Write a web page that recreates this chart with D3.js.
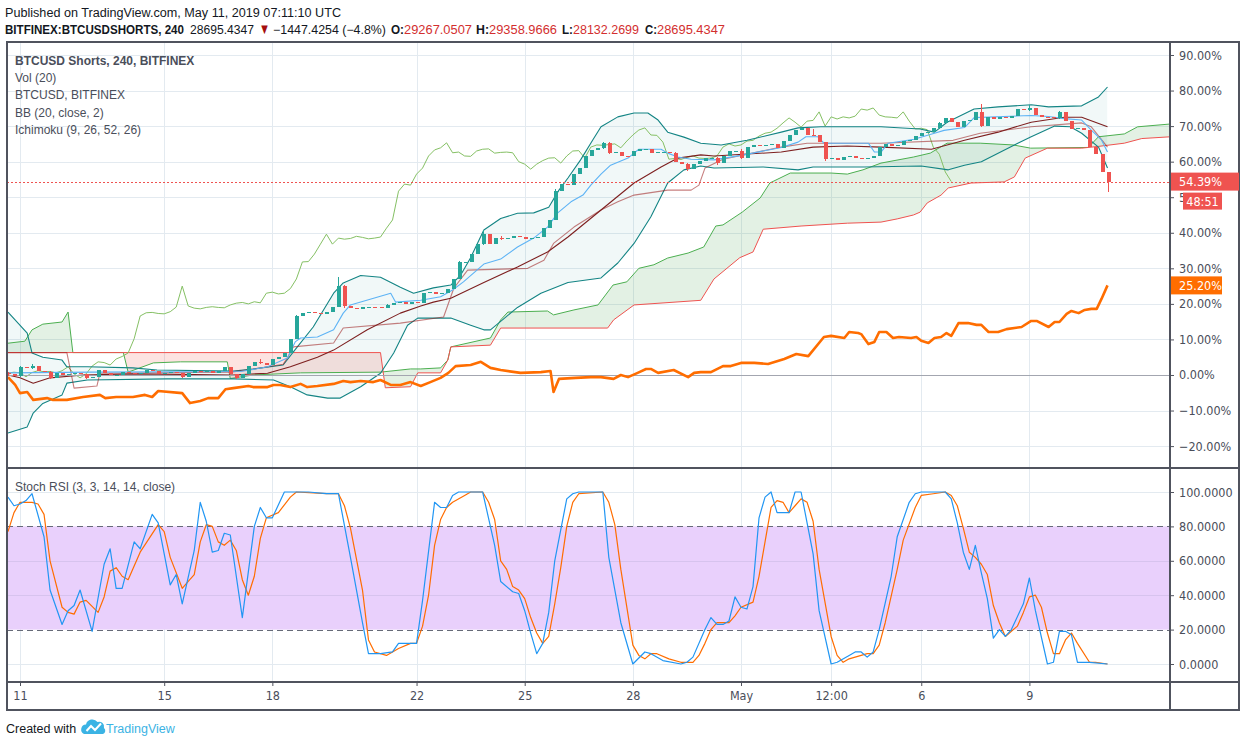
<!DOCTYPE html>
<html><head><meta charset="utf-8">
<script src="https://cdn.jsdelivr.net/npm/d3@7"></script>
<style>
body{margin:0;background:#fff}
svg{display:block}
</style>
</head><body>
<svg id="c" width="1240" height="747"></svg>
<script>
// ---------------- DATA ----------------
// 4h bars, bar 0 = 2019-04-10 16:00 UTC. Values in % (BTCUSD Shorts, percent scale)
const firstOpen = 0.6;
const closes = [0.2,-0.3,2.2,2.0,2.4,1.2,0.9,-0.8,0.5,0.0, 0.2,0.6,0.4,-0.8,-0.5,1.3,0.5,0.0,0.1,0.8,
 0.6,0.3,0.6,1.5,1.2,0.4,0.5,0.8,0.6,-0.5, 0.7,1.2,0.9,1.0,0.6,1.2,2.3,0.3,-0.8,0.3,
 2.5,3.7,3.5,2.8,4.5,5.2,6.2,10.2,16.6,17.5, 17.6,17.3,17.2,17.8,19.1,25.0,19.4,18.8,18.6,19.0,
 19.2,19.0,18.9,19.7,20.2,20.4,20.0,20.6,20.3,23.0, 23.3,22.8,23.0,24.3,27.0,31.8,31.9,34.0,36.8,39.6,
 36.8,38.5,38.2,38.4,39.0,38.7,38.3,38.5,38.8,41.3, 43.6,51.7,53.7,53.4,56.5,58.2,61.6,63.3,63.9,65.3,
 62.5,62.7,61.6,61.5,63.0,63.5,63.6,62.4,62.6,62.7, 62.5,60.0,59.3,57.9,59.3,60.3,61.0,61.1,59.6,61.6,
 63.0,63.1,61.0,64.1,64.7,64.6,64.8,65.0,63.9,65.8, 67.5,68.9,69.5,67.5,67.4,65.5,60.7,60.9,60.6,61.2,
 61.6,61.0,60.9,61.0,61.6,64.1,65.0,64.4,64.7,65.8, 66.0,67.2,68.0,68.3,69.4,70.9,72.3,71.1,69.7,71.4,
 71.6,74.0,70.0,72.6,72.0,72.6,72.3,72.8,74.8,74.5, 75.1,73.1,72.6,72.5,72.3,74.0,71.4,69.2,69.4,69.0,
 64.1,62.1,57.1,54.4];
// notable wicks: [bar, high, low]
const wicks = [[0,0.8,-0.2],[2,2.5,-0.5],[4,3.2,1.8],[7,1.0,-1.0],[13,0.3,-1.0],[29,0.6,-0.8],[38,0.4,-1.0],
 [42,4.5,3.0],[48,16.8,10.0],[55,27.5,19.0],[56,25.2,18.8],[63,20.0,18.8],[75,32.2,27],[79,40.8,36.5],
 [82,39.0,38.0],[91,52.3,43.5],[99,65.6,63.5],[100,65.5,62.2],[111,62.6,59.8],[113,59.6,57.5],[118,61.2,59.2],
 [122,63.5,60.8],[134,69.3,67.3],[136,65.5,60.2],[155,71.2,69.3],[162,76.3,69.8],[170,75.8,74.3],[175,74.3,72.0],[183,57.1,51.5]];
const lagShift = 26;

const bbUpper = [[0,17.7],[3.2,11.8],[4,6.2],[5.8,5],[9,4.2],[9.8,2.3],[13.2,2.3],[20.8,2.0],[24.8,1.4],[37.5,1.1],[40.8,1.7],[45.8,2.8],[47.5,6.5],[50.8,13.5],[54.2,23],[55.8,25.9],[58.7,28],[62,27.5],[65.3,24.7],[67.5,23],[70.8,24.5],[73.7,25.3],[75.3,28],[77,33],[79.2,40.8],[82,44],[84.8,45.5],[87.5,45.6],[90,47.2],[91.7,52],[93.2,55.4],[95.3,60.5],[97.3,66],[98.7,69.8],[101.5,72.6],[104.2,73.7],[106.5,73.7],[108.2,71.7],[109.8,68.3],[112.5,66.9],[115.3,65.2],[118.7,64.7],[123,66],[128.7,68.3],[131.5,69.5],[135.3,69.8],[145.3,69.8],[151.8,69.2],[154.2,68.3],[156.3,71.1],[160.8,74.8],[164.8,75.4],[170.3,76],[173.2,75.4],[178.7,75.7],[181.5,78.2],[183,81]];
const bbLower = [[0,-16.3],[3.2,-14.6],[4.2,-10.7],[5.8,-8],[9,-5.6],[9.8,-2.3],[13.2,-1.4],[26.5,-1.1],[37.5,-1.1],[44.2,-1.4],[47,-3.3],[49.8,-5.6],[53.2,-6.5],[55.3,-6.5],[58.7,-3.3],[62,0.5],[64.2,6.2],[66.5,14],[68.2,16],[73.7,16],[77,14],[79.2,12.7],[80.3,12.7],[84.8,19],[88.7,23],[93.2,26],[98.7,27.3],[101.5,31.5],[104.2,37],[107,44.5],[109.8,54],[112.5,57.7],[115.3,58.8],[117.5,58.2],[125.7,58.5],[131.5,57.7],[134,58.5],[142.5,58.5],[152,58.8],[156.5,57.7],[159.2,59],[162,60],[167.5,64.7],[170.3,67],[174.2,70],[176.8,69.8],[178.7,68],[181.5,64.1],[183,58.2]];
const bbBasis = [[0,0],[2,-0.8],[4.2,-2.3],[7,-0.8],[12.5,0],[20.8,0.3],[37.5,0],[43.2,0.5],[47,2.3],[51.5,5],[54.2,7],[59.8,12.7],[65.3,17.4],[68.7,19.4],[70.8,20.5],[73.7,21.6],[79.2,26],[84.8,30.4],[89.8,34.6],[93.2,38.8],[98.7,46.4],[104.2,54],[108.7,58.5],[111.5,61],[115.3,61.9],[117.5,61.6],[128.7,62.7],[134,64.1],[139.7,64.4],[145.3,64.1],[153.7,63.5],[159.2,66],[164.8,68.3],[170.3,71.1],[175.8,72.5],[178.7,72.5],[183,69.8]];
const tenkan = [[0,0.6],[14,0.8],[38.7,1.0],[40.3,1.4],[43.2,2.3],[46.5,4.8],[47.8,9.3],[48.7,10.4],[51.5,10.7],[54.2,12.7],[55.8,17.4],[57,19.7],[63.7,23],[64.5,20.5],[68.7,21],[72,22],[74,23.9],[75.8,26.2],[79.2,31.2],[82,32.6],[84.8,36],[87.5,38.5],[89.8,41.6],[91.5,45.6],[93.7,48.7],[95.7,50.6],[97,53.4],[98.7,56.5],[100.3,59],[103.2,61],[104.2,62.4],[105,63.5],[108.7,63.5],[109.8,62.4],[111.5,61.3],[113.7,60.7],[117.5,60.5],[122.5,61.9],[128.7,64],[131.5,65.5],[132.8,67],[134.8,67],[135.8,65.2],[143.2,65.2],[144.2,62.7],[145.3,62.7],[146.5,65.2],[150.8,66.3],[154.2,68],[155.8,68.8],[159.2,69.6],[160.8,72.4],[170.3,73],[173.2,72.7],[175.8,72.1],[178.7,71.7],[180.3,68.9],[182,66.1],[183,62.7]];
const kijun = [[0,6.3],[9.8,6.3],[11,-3.7],[14.8,-3.1],[15.3,0.5],[37,0.8],[40.3,1.5],[45.8,3],[46.5,4.8],[47.5,7.9],[54.2,9],[55.8,13.2],[65.3,14.6],[72.5,16.3],[74.2,24.4],[76.5,29.5],[86.5,30],[89.2,32.3],[90.8,37],[94.2,41.6],[98.7,46.4],[101.5,48.7],[104.2,50.6],[109.8,52],[113.7,52],[115,53.4],[116,58.2],[119,60.7],[128.7,64.1],[133,65.2],[145.3,65.2],[157.3,66],[161.8,68],[170.3,69.8],[178.7,70.9],[180.3,69.8],[183,64.1]];
const leadA = [[-0.2,8.9],[2.8,9.5],[4,12.7],[5.8,14.3],[9,14.9],[10,17.7],[10.8,6.3],[19.2,6.3],[20,0.8],[24.2,3.4],[28.7,3.7],[36.5,3.7],[37,-1.0],[40.8,0],[48.7,0.6],[62,0.8],[67,1.7],[68.7,1.7],[72,2],[73.2,4.2],[73.7,7.9],[80.3,10.4],[82,15.5],[83.2,17.7],[89.8,18],[90.8,16.9],[94.2,18.3],[98.2,19.7],[100.7,25.3],[103,26.2],[105,30],[107.5,31],[109.8,32.9],[113.2,34.3],[115.8,36],[117.8,41.9],[119,42.2],[122.2,45.8],[125.2,49.8],[126.8,54],[130.2,56.8],[137,56.8],[139.7,56.5],[142.3,57.7],[145.3,59.6],[150.7,61.3],[153.5,62.4],[156.3,65.2],[161.8,65.2],[167.3,64.7],[170.2,63.8],[179.8,64],[181.5,67],[185.8,67.8],[188,69.8],[193.5,70.6]];
const leadB = [[-0.2,6.3],[62,6.3],[62.8,-3.6],[67,-3.3],[68.2,0.6],[72,0.6],[73.2,4.2],[73.7,7.9],[80.3,8.4],[82,13.2],[99.8,13.2],[100.8,15.5],[104.2,19.7],[115.3,21],[117.5,27],[121.8,33],[124,34.6],[125.7,41],[132,41.9],[139.7,42.7],[145.3,43],[148,43.9],[150.7,45],[151.8,45.8],[153,48.4],[155.3,50.6],[156.5,52.6],[160.3,54],[165.8,54.3],[167.5,55.7],[169.3,61],[173,63.8],[178.7,63.8],[181.5,64.3],[185.8,65.2],[188.7,66.5],[193.5,67]];
const btcusd = [[0,-0.6],[1.2,-2.8],[2,-5.1],[3.2,-4.8],[4.2,-7],[6.5,-6.5],[7.5,-7],[9.8,-7],[12.5,-6.2],[15.3,-5.6],[16.2,-6.5],[18,-6.2],[20.8,-6.2],[22.8,-5.6],[24,-6.2],[25,-4.5],[29,-5.1],[30.3,-7.9],[32,-7.3],[33.3,-6.5],[35,-6.5],[36.2,-4],[37.5,-3.7],[40,-3.1],[40.8,-3.4],[43.2,-3.4],[44.2,-2.8],[45.3,-2.8],[47,-3.4],[48.7,-2.5],[49.8,-3.4],[51.5,-3.1],[54.2,-2.5],[55.8,-1.7],[57,-2],[58.7,-1.7],[60.8,-2],[62,-1.4],[63.7,-2.8],[65.3,-2.8],[67,-2],[68.7,-3.1],[70.3,-2],[72,-0.8],[73.3,0.6],[74.5,2.5],[77,2.8],[78.7,3.7],[80.3,2],[82,1.4],[85.3,0.6],[88.7,0.8],[90.3,1.1],[90.8,-4.8],[91.7,-1.1],[94.5,-0.8],[97,-0.6],[98.7,-0.6],[100.8,-1.1],[102,0],[103.2,-0.6],[104.8,0.6],[106.2,1.7],[107,1.7],[108.2,0.6],[110.8,1.4],[113.2,-0.6],[114.2,0.6],[115.3,0.8],[117,0.8],[119,2.5],[120.3,2.5],[122,3.4],[124.2,3.4],[126.5,3.1],[129.2,4.5],[131.2,5.9],[133.2,5.3],[135.8,10.7],[137,11],[139.2,10.4],[140,12.1],[141.5,11.8],[142,11.5],[143.2,8.7],[144.2,9.3],[145,12.1],[146.2,12.1],[147.3,10.4],[148.3,10.7],[150.3,10.4],[151.2,10.7],[152,9.6],[153.2,9],[154.2,10.4],[155.3,10.7],[156.2,11.8],[157,11],[158.2,14.6],[159.8,14.6],[161.2,14.1],[162,14.1],[163.2,12.1],[164.8,12.1],[166.2,12.9],[168.7,13.5],[170.3,15.2],[171.2,15.2],[173.2,13.5],[174.2,14.9],[175,14.9],[176.2,17.2],[177,18],[178.2,17.4],[179.2,18.3],[180.3,18.6],[181.2,18.6],[182,21.4],[183,25.2]];
const stochK = [[0,97],[1,92],[2,93],[3,95],[4,99],[6,74],[7,43],[9,23],[10,31],[11,34],[12,43],[14,19],[16,58],[17,67],[18,44],[19,44],[21,71],[22,67],[24,87],[25,82],[27,46],[28,52],[29,35],[31,66],[32,94],[33,83],[34,65],[35,66],[36,76],[37,75],[39,27],[41,80],[42,91],[43,85],[44,85],[46,100],[50,100],[53,99],[55,99],[57,62],[59,24],[60,6],[62,6],[64,7],[65,12],[66,12],[68,12],[69,37],[71,94],[72,91],[73,91],[74,98],[75,100],[79,100],[81,69],[82,48],[84,42],[85,41],[86,31],[87,18],[88,6],[89,12],[90,30],[91,60],[93,96],[94,99],[95,100],[99,100],[100,62],[102,24],[104,0],[106,7],[107,6],[109,2],[112,0],[113,1],[114,4],[116,20],[117,27],[118,23],[119,23],[120,25],[121,39],[122,33],[123,32],[124,45],[125,85],[126,97],[127,100],[128,88],[130,88],[131,100],[132,100],[134,64],[135,31],[137,0],[138,1],[140,5],[141,7],[142,7],[143,4],[144,7],[145,20],[147,51],[148,74],[150,94],[151,99],[152,100],[156,100],[157,96],[158,82],[159,65],[160,55],[161,69],[162,53],[163,38],[164,15],[165,20],[166,16],[167,20],[169,35],[170,50],[171,31],[173,0],[174,1],[175,19],[176,19],[177,17],[178,1],[180,1],[183,0]];
const stochD = [[0,77],[1,88],[2,94],[4,94],[5,93],[6,87],[7,60],[9,33],[10,30],[11,29],[12,36],[13,37],[15,30],[16,39],[17,54],[18,56],[19,51],[20,49],[22,65],[25,81],[26,77],[27,62],[29,44],[30,48],[31,52],[32,71],[33,81],[34,80],[35,71],[36,69],[37,72],[38,66],[39,49],[40,40],[41,51],[42,73],[43,85],[45,88],[47,97],[48,100],[53,99],[55,99],[56,92],[57,79],[59,43],[60,14],[61,7],[63,5],[64,7],[65,9],[67,12],[68,12],[69,22],[70,40],[71,69],[72,84],[73,91],[74,94],[76,98],[77,100],[79,100],[80,94],[81,84],[82,60],[83,55],[84,45],[85,43],[86,38],[87,27],[88,18],[89,12],[90,16],[91,35],[92,56],[93,80],[94,94],[95,99],[99,100],[100,94],[101,81],[102,55],[104,11],[105,5],[106,3],[107,6],[108,6],[110,3],[112,1],[114,1],[115,5],[116,12],[117,20],[118,24],[120,24],[121,28],[122,33],[124,36],[125,51],[126,71],[127,91],[128,95],[129,94],[130,88],[131,92],[132,96],[133,94],[134,83],[135,55],[137,16],[138,5],[139,1],[140,3],[142,5],[143,6],[144,6],[145,11],[146,24],[148,55],[149,72],[151,91],[152,98],[154,99],[156,100],[157,98],[158,92],[159,79],[160,65],[161,62],[162,58],[163,52],[164,34],[165,24],[166,16],[167,19],[168,22],[169,30],[170,39],[171,40],[172,33],[173,18],[174,6],[175,6],[176,14],[177,18],[178,12],[180,1],[181,1],[183,0]];

const mainTicks = [-20,-10,0,10,20,30,40,50,60,70,80,90];
const stochTicks = [0,20,40,60,80,100];
const stochBand = [20,80];
const timeTickDates = ["2019-04-11T00:00","2019-04-15T00:00","2019-04-18T00:00","2019-04-22T00:00","2019-04-25T00:00","2019-04-28T00:00","2019-05-01T00:00","2019-05-03T12:00","2019-05-06T00:00","2019-05-09T00:00"];
const timeTickLabels = ["11","15","18","22","25","28","May","12:00","6","9"];
const lastPrice = 54.39, lastBtc = 25.20, countdown = "48:51";

// ---------------- LAYOUT ----------------
const L = 7, R = 1170, T = 42, MB = 468, SB = 682, AB = 710, W = 1239;
const FONT = "'Liberation Sans', Arial, sans-serif";
const NFONT = "'Liberation Sans Narrow','DejaVu Sans Condensed','Liberation Sans',sans-serif";
const svg = d3.select('#c');
const defs = svg.append('defs');

const t0 = Date.UTC(2019,3,10,16), H4 = 4*3600e3;
const xT = d3.scaleTime().domain([new Date(Date.UTC(2019,3,11)), new Date(Date.UTC(2019,4,1))]).range([20, 741]);
const bx = i => xT(new Date(t0 + i*H4));
const yM = d3.scaleLinear().domain([-20, 90]).range([446.1, 55]);
const yS = d3.scaleLinear().domain([0, 100]).range([664, 492]);
const tDates = timeTickDates.map(s => new Date(s + ':00Z'));

defs.append('clipPath').attr('id','mainClip').append('rect').attr('x',L).attr('y',T).attr('width',R-L).attr('height',MB-T);
defs.append('clipPath').attr('id','stClip').append('rect').attr('x',L).attr('y',MB).attr('width',R-L).attr('height',SB-MB);

// grid
const grid = svg.append('g').attr('shape-rendering','crispEdges').attr('stroke','#e3eaf0').attr('stroke-width',1);
mainTicks.forEach(v => grid.append('line').attr('x1',L).attr('x2',R).attr('y1',Math.round(yM(v))+0.5).attr('y2',Math.round(yM(v))+0.5));
[0,40,60,100].forEach(v => grid.append('line').attr('x1',L).attr('x2',R).attr('y1',Math.round(yS(v))+0.5).attr('y2',Math.round(yS(v))+0.5));
tDates.forEach(d => grid.append('line').attr('x1',Math.round(xT(d))+0.5).attr('x2',Math.round(xT(d))+0.5).attr('y1',T).attr('y2',SB));

// main pane
const mp = svg.append('g').attr('clip-path','url(#mainClip)');
function clipBelow(id, data) {
  defs.append('clipPath').attr('id',id).append('path')
    .attr('d', d3.area().x(d=>bx(d[0])).y0(MB+200).y1(d=>yM(d[1]))(data));
}
const areaAbove = data => d3.area().x(d=>bx(d[0])).y0(T-200).y1(d=>yM(d[1]))(data);
clipBelow('belowA', leadA); clipBelow('belowB', leadB); clipBelow('belowU', bbUpper);
mp.append('path').attr('d', areaAbove(leadB)).attr('fill','rgba(67,160,71,0.15)').attr('clip-path','url(#belowA)');
mp.append('path').attr('d', areaAbove(leadA)).attr('fill','rgba(244,67,54,0.15)').attr('clip-path','url(#belowB)');
mp.append('path').attr('d', areaAbove(bbLower)).attr('fill','rgba(19,132,132,0.06)').attr('clip-path','url(#belowU)');

const lineM = d3.line().x(d=>bx(d[0])).y(d=>yM(d[1]));
function drawLine(g, data, color, w, gen) {
  g.append('path').attr('d',(gen||lineM)(data)).attr('fill','none').attr('stroke',color).attr('stroke-width',w).attr('stroke-linejoin','round');
}
drawLine(mp, leadA, '#4caf50', 1);
drawLine(mp, leadB, '#ef5350', 1);
const lagging = closes.map((c,i)=>[i-lagShift, c]);
drawLine(mp, lagging, '#85c064', 1);
drawLine(mp, bbUpper, '#138484', 1.1);
drawLine(mp, bbLower, '#138484', 1.1);
drawLine(mp, kijun, 'rgba(153,21,21,0.55)', 1.1);
drawLine(mp, bbBasis, '#7d1f1f', 1.1);
drawLine(mp, tenkan, '#5db3f5', 1.1);

// zero line
mp.append('line').attr('x1',L).attr('x2',R).attr('y1',Math.round(yM(0))+0.5).attr('y2',Math.round(yM(0))+0.5)
  .attr('stroke','#a3a6b0').attr('stroke-width',1);

// candles
const wickMap = new Map(wicks.map(w=>[w[0],w]));
const cg = mp.append('g').attr('shape-rendering','crispEdges');
closes.forEach((c,i) => {
  const o = i===0 ? firstOpen : closes[i-1];
  const up = c >= o;
  const col = up ? '#26a69a' : '#ef5350';
  const w = wickMap.get(i);
  const hi = w ? Math.max(w[1], o, c) : Math.max(o,c);
  const lo = w ? Math.min(w[2], o, c) : Math.min(o,c);
  const xc = Math.round(bx(i));
  cg.append('line').attr('x1',xc+0.5).attr('x2',xc+0.5).attr('y1',yM(hi)).attr('y2',yM(lo)).attr('stroke',col);
  const y1 = yM(Math.max(o,c)), y2 = yM(Math.min(o,c));
  cg.append('rect').attr('x',xc-1.5).attr('width',4).attr('y',y1).attr('height',Math.max(1,y2-y1)).attr('fill',col);
});

// BTCUSD compare line
drawLine(mp, btcusd, '#ff6d00', 2.6);

// last price line
mp.append('line').attr('x1',L).attr('x2',R).attr('y1',Math.round(yM(lastPrice))+0.5).attr('y2',Math.round(yM(lastPrice))+0.5)
  .attr('stroke','#ef5350').attr('stroke-width',1).attr('stroke-dasharray','2,2');

// stoch pane
const sp = svg.append('g').attr('clip-path','url(#stClip)');
sp.append('rect').attr('x',L).attr('width',R-L).attr('y',yS(stochBand[1])).attr('height',yS(stochBand[0])-yS(stochBand[1]))
  .attr('fill','#e9d0fc');
[40,60].forEach(v => sp.append('line').attr('x1',L).attr('x2',R).attr('y1',Math.round(yS(v))+0.5).attr('y2',Math.round(yS(v))+0.5).attr('stroke','#d7c3ee'));
stochBand.forEach(v => sp.append('line').attr('x1',L).attr('x2',R).attr('y1',Math.round(yS(v))+0.5).attr('y2',Math.round(yS(v))+0.5)
  .attr('stroke','#666a78').attr('stroke-dasharray','6,4'));
const lineS = d3.line().x(d=>bx(d[0])).y(d=>yS(d[1]));
drawLine(sp, stochD, '#ff6d00', 1.2, lineS);
drawLine(sp, stochK, '#2196f3', 1.2, lineS);

// borders
const bd = svg.append('g').attr('stroke','#50535e').attr('stroke-width',1.5).attr('fill','none').attr('shape-rendering','crispEdges');
bd.append('rect').attr('x',L).attr('y',T).attr('width',W-L).attr('height',AB-T);
bd.append('line').attr('x1',R).attr('x2',R).attr('y1',T).attr('y2',AB);
bd.append('line').attr('x1',L).attr('x2',W).attr('y1',MB).attr('y2',MB);
bd.append('line').attr('x1',L).attr('x2',W).attr('y1',SB).attr('y2',SB);

// axes
const fmtP = d3.format('.2f');
const axM = svg.append('g').attr('transform',`translate(${R},0)`)
  .call(d3.axisRight(yM).tickValues(mainTicks).tickSize(4).tickPadding(5).tickFormat(d=>fmtP(d)+'%'));
const axS = svg.append('g').attr('transform',`translate(${R},0)`)
  .call(d3.axisRight(yS).tickValues(stochTicks).tickSize(4).tickPadding(5).tickFormat(d3.format('.4f')));
const axT = svg.append('g').attr('transform',`translate(0,${SB})`)
  .call(d3.axisBottom(xT).tickValues(tDates).tickSize(4).tickPadding(5).tickFormat((d,i)=>timeTickLabels[i]));
[axM,axS,axT].forEach(a => {
  a.select('.domain').remove();
  a.selectAll('line').attr('stroke','#50535e');
  a.selectAll('text').attr('fill','#4a4e5a').style('font-family',NFONT).style('font-size','12.5px');
});
// the countdown box hides the 50.00% label except its first digit, as in the reference
axM.selectAll('.tick').filter(d => d === 50).select('text').text('5');

// price labels on axis
function axisLabel(v, text, color, x2, y) {
  const g = svg.append('g');
  g.append('rect').attr('x',R+1).attr('y',y-9).attr('width',x2-R-1).attr('height',18).attr('fill',color);
  g.append('text').attr('x',R+9).attr('y',y+4.5).text(text).attr('fill','#fff').style('font-family',NFONT).style('font-size','12.5px');
}
axisLabel(lastPrice, fmtP(lastPrice)+'%', '#ef5350', W, yM(lastPrice));
svg.append('rect').attr('x',1183).attr('y',yM(lastPrice)+11).attr('width',39).attr('height',17).attr('fill','#ef5350');
svg.append('text').attr('x',1202.5).attr('y',yM(lastPrice)+24).attr('text-anchor','middle').text(countdown).attr('fill','#fff').style('font-family',NFONT).style('font-size','12.5px');
axisLabel(lastBtc, fmtP(lastBtc)+'%', '#ff6d00', 1222, yM(lastBtc));

// texts
const tx = svg.append('g').style('font-family',FONT).style('font-size','12px');
tx.append('text').attr('x',5).attr('y',17).attr('fill','#131722').text('Published on TradingView.com, May 11, 2019 07:11:10 UTC')
  .attr('textLength',336).attr('lengthAdjust','spacingAndGlyphs');
const headerSegs = [
  ['BITFINEX:BTCUSDSHORTS, 240', 5, 179, 'bold', '#131722', 12],
  ['28695.4347', 190, 64, 'normal', '#131722', 12],
  ['\u25BC', 259, 11, 'normal', '#a50e0e', 15],
  ['\u22121447.4254 (\u22124.8%)', 273, 113, 'normal', '#131722', 12],
  ['O:', 391, 13, 'bold', '#131722', 12], ['29267.0507', 404, 68, 'normal', '#d32f2f', 12],
  ['H:', 476, 13, 'bold', '#131722', 12], ['29358.9666', 489, 68, 'normal', '#d32f2f', 12],
  ['L:', 562, 11, 'bold', '#131722', 12], ['28132.2699', 573, 66, 'normal', '#d32f2f', 12],
  ['C:', 645, 12, 'bold', '#131722', 12], ['28695.4347', 657, 68, 'normal', '#d32f2f', 12]];
headerSegs.forEach(s => tx.append('text').attr('x',s[1]).attr('y',34).text(s[0]).attr('fill',s[4])
  .style('font-weight',s[3]).style('font-size',s[5]+'px').attr('textLength',s[2]).attr('lengthAdjust','spacingAndGlyphs'));

const legend = ['BTCUSD Shorts, 240, BITFINEX','Vol (20)','BTCUSD, BITFINEX','BB (20, close, 2)','Ichimoku (9, 26, 52, 26)'];
legend.forEach((s,i) => tx.append('text').attr('x',15).attr('y',65+i*17.2).text(s).attr('fill','#4a4e5a')
  .style('font-weight', i===0?'bold':'normal'));
tx.append('text').attr('x',15).attr('y',491).text('Stoch RSI (3, 3, 14, 14, close)').attr('fill','#4a4e5a');

// footer
tx.append('text').attr('x',6).attr('y',733).text('Created with').attr('fill','#131722').style('font-size','12.5px');
const logo = svg.append('g');
logo.append('path').attr('d','M84,734 a5,5 0 0 1 2,-9.5 a6.5,6.5 0 0 1 11.5,-2.5 a5,5 0 0 1 6.5,6 a3.5,3.5 0 0 1 -1,6 z').attr('fill','#3bb3e4');
logo.append('polyline').attr('points','86.5,731 91,726 95,730 101,723.5').attr('fill','none').attr('stroke','#fff').attr('stroke-width',2);
tx.append('text').attr('x',106).attr('y',733).text('TradingView').attr('fill','#3bb3e4').style('font-size','12.5px');
</script>
</body></html>
